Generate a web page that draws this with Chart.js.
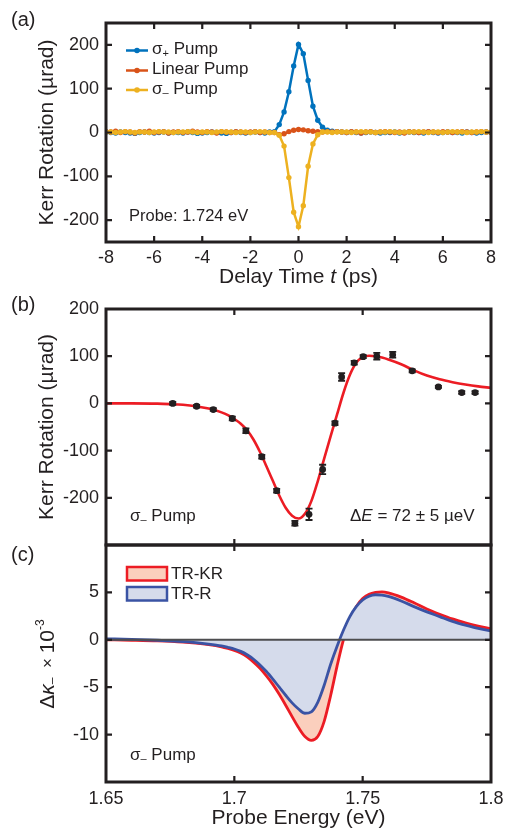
<!DOCTYPE html>
<html><head><meta charset="utf-8">
<script src="https://cdn.jsdelivr.net/npm/chart.js@4.4.1/dist/chart.umd.min.js"></script>
<style>
html,body{margin:0;padding:0;background:#fff;}
#wrap{position:relative;width:510px;height:831px;overflow:hidden;}
canvas{position:absolute;left:0;top:0;}
</style></head><body>
<div id="wrap">
<canvas id="ca" width="510" height="831"></canvas>
<canvas id="cb" width="510" height="831"></canvas>
<canvas id="cc" width="510" height="831"></canvas>
</div>
<script>
// ---------- Panel (a) data ----------
const delay = [-8,-7.8,-7.6,-7.4,-7.2,-7,-6.8,-6.6,-6.4,-6.2,-6,-5.8,-5.6,-5.4,-5.2,-5,-4.8,-4.6,-4.4,-4.2,-4,-3.8,-3.6,-3.4,-3.2,-3,-2.8,-2.6,-2.4,-2.2,-2,-1.8,-1.6,-1.4,-1.2,
  -1,-0.8,-0.6,-0.4,-0.2,0,0.2,0.4,0.6,0.8,1,1.2,1.4,1.6,
  1.8,2,2.2,2.4,2.6,2.8,3,3.2,3.4,3.6,3.8,4,4.2,4.4,4.6,4.8,5,5.2,5.4,5.6,5.8,6,6.2,6.4,6.6,6.8,7,7.2,7.4,7.6,7.8,8];
const sigmaPlus = [1,0,-1,1,0,-1,-2,0,1,0,-1,0,1,-1,0,0,-1,1,0,-2,-1,0,1,0,-1,-2,0,1,0,-1,0,1,0,-1,1,
  2,18,47,93,152,201,180,119,60,28,12,5,3,2,
  1,0,1,0,-1,0,1,0,-1,0,0,1,-1,0,1,0,0,-1,1,0,-1,0,1,0,0,-1,1,0,-1,0,1,0];
const linearPump = [2,1,3,0,2,1,-1,2,1,3,0,1,2,-1,1,2,0,1,3,1,0,2,1,-1,2,1,0,2,1,0,1,2,0,1,0,
  0,-5,-3,2,5,7,6,4,3,2,1,2,1,2,
  1,0,2,1,-1,1,2,0,1,2,1,0,1,-1,2,1,0,1,2,1,0,2,1,0,1,2,1,0,1,2,1,0];
const sigmaMinus = [1,1,0,1,2,1,0,1,1,0,1,2,1,1,0,1,1,2,1,0,1,1,0,1,2,1,1,0,1,1,0,1,2,1,0,
  0,-6,-31,-103,-182,-215,-167,-77,-26,-5,1,1,0,1,
  1,1,0,1,2,1,1,0,1,1,2,1,0,1,1,1,2,1,0,1,1,0,1,2,1,1,0,1,1,2,1,1];
const xTicksA = [-8,-6,-4,-2,0,2,4,6,8];
const yTicksA = [-200,-100,0,100,200];

// ---------- Panel (b) data ----------
const energyB = [1.676,1.6853,1.6918,1.6992,1.7045,1.7107,1.7165,1.7236,1.7291,1.7344,1.7392,1.7418,1.7467,1.7502,1.7555,1.7617,1.7693,1.7795,1.7886,1.7938];
const kerrB   = [0,-6,-13,-32,-58,-113,-185,-254,-235,-140,-42,56,86,99,100,103,69,35,23,23];
const errB    = [3,3,3,4,5,4,4,5,12,10,4,8,4,3,7,6,3,2,3,3];
const fitE = [1.65,1.66,1.67,1.675,1.68,1.685,1.69,1.695,1.6975,1.70,1.7025,1.705,1.7075,1.71,1.7125,1.715,1.7175,1.72,1.7225,1.725,1.7275,1.73,1.7325,1.735,1.7375,1.74,1.7425,1.745,1.7475,1.75,1.7525,1.755,1.7575,1.76,1.765,1.77,1.775,1.78,1.785,1.79,1.795,1.80];
const fitK = [0,0,-0.5,-1.5,-3,-6,-11,-19,-25,-33,-43,-57,-77,-103,-133,-164,-195,-221,-238,-244,-234,-207,-165,-117,-70,-24,22,60,86,98,101,100,97,93,83,70,59,51,45,40,36,33];
const xTicksBC = [1.65,1.7,1.75,1.8];
const yTicksB = [-200,-100,0,100,200];

// ---------- Panel (c) data ----------
const energyC = [1.65,1.66,1.67,1.68,1.685,1.69,1.695,1.6975,1.70,1.7025,1.705,1.7075,1.71,1.7125,1.715,1.7175,1.72,1.7225,1.725,1.7275,1.73,1.7325,1.735,1.7375,1.74,1.7425,1.745,1.7475,1.75,1.7525,1.755,1.7575,1.76,1.765,1.77,1.775,1.78,1.785,1.79,1.795,1.80];
const trKR = [0,-0.05,-0.12,-0.25,-0.36,-0.52,-0.75,-0.92,-1.12,-1.4,-1.8,-2.35,-3.0,-3.8,-4.7,-5.75,-6.9,-8.1,-9.25,-10.2,-10.6,-10.2,-8.6,-5.9,-2.8,0,2.1,3.5,4.35,4.8,5.0,5.05,4.95,4.5,3.9,3.25,2.7,2.2,1.8,1.45,1.15];
const trR  = [0.1,0.05,-0.05,-0.2,-0.3,-0.45,-0.65,-0.8,-0.97,-1.22,-1.58,-2.05,-2.65,-3.35,-4.15,-5.0,-5.85,-6.65,-7.3,-7.75,-7.6,-6.6,-4.8,-2.6,-0.7,1.0,2.45,3.5,4.2,4.6,4.75,4.72,4.58,4.1,3.5,2.95,2.45,1.95,1.55,1.2,0.95];
const yTicksC = [-10,-5,0,5];

// ---------- styles ----------
const F = '"Liberation Sans", Arial, Helvetica, sans-serif';
const INK = '#231f20';
const BLUE = '#0072bd', ORANGE = '#d95319', YELLOW = '#edb120';
const RED = '#ec1c24', REDFILL = '#fbcfbd';
const NAVY = '#3a53a4', NAVYFILL = '#d5dbeb';

function pts(xs, ys){ return xs.map((x,i)=>({x:x, y:ys[i]})); }

function drawRich(ctx, x, y, segs, align){
  let w = 0;
  const ws = segs.map(s => { ctx.font = s[1]; const m = ctx.measureText(s[0]).width; w += m; return m; });
  let cx = align === 'center' ? x - w/2 : x;
  segs.forEach((s,i) => { ctx.font = s[1]; ctx.fillText(s[0], cx, y + (s[2]||0)); cx += ws[i]; });
}

function drawA(chart){
  const ctx = chart.ctx;
  ctx.font = `20px ${F}`; ctx.fillText('(a)', 11, 20);
  const ds = chart.data.datasets;
  const rows = [[50.5, ds[0], '+'], [70.5, ds[1], null], [90, ds[2], '\u2013']];
  rows.forEach(r => {
    const [yy, d, sub] = r;
    ctx.strokeStyle = d.borderColor; ctx.lineWidth = 2.5;
    ctx.beginPath(); ctx.moveTo(126, yy); ctx.lineTo(148, yy); ctx.stroke();
    ctx.fillStyle = d.borderColor; ctx.beginPath(); ctx.arc(137, yy, 2.8, 0, Math.PI*2); ctx.fill();
    ctx.fillStyle = INK;
    if (sub) {
      drawRich(ctx, 152, yy - 1, [['\u03c3', `17px ${F}`, 0], [sub, `11px ${F}`, 4], [' Pump', `17px ${F}`, 0]]);
    } else {
      ctx.font = `17px ${F}`; ctx.fillText(d.label, 152, yy - 1);
    }
  });
  ctx.font = `16.5px ${F}`; ctx.fillText('Probe: 1.724 eV', 129, 216);
  drawRich(ctx, 298.5, 277, [['Delay Time ', `21px ${F}`, 0], ['t', `italic 21px ${F}`, 0], [' (ps)', `21px ${F}`, 0]], 'center');
}

function drawB(chart){
  const ctx = chart.ctx;
  ctx.font = `20px ${F}`; ctx.fillText('(b)', 11, 305);
  drawRich(ctx, 130, 516, [['\u03c3', `17px ${F}`, 0], ['\u2013', `11px ${F}`, 4], [' Pump', `17px ${F}`, 0]]);
  drawRich(ctx, 350, 516, [['\u0394', `17px ${F}`, 0], ['E', `italic 17px ${F}`, 0], [' = 72 \u00b1 5 \u00b5eV', `17px ${F}`, 0]]);
}
function errB_draw(chart){
  const {ctx, scales:{x,y}} = chart;
  ctx.save(); ctx.strokeStyle = INK; ctx.lineWidth = 1.8;
  energyB.forEach((e,i) => {
    const px = x.getPixelForValue(e);
    const y1 = y.getPixelForValue(kerrB[i] + errB[i]);
    const y2 = y.getPixelForValue(kerrB[i] - errB[i]);
    ctx.beginPath();
    ctx.moveTo(px, y1); ctx.lineTo(px, y2);
    ctx.moveTo(px-3.5, y1); ctx.lineTo(px+3.5, y1);
    ctx.moveTo(px-3.5, y2); ctx.lineTo(px+3.5, y2);
    ctx.stroke();
  });
  ctx.restore();
}

function drawC(chart){
  const ctx = chart.ctx;
  ctx.font = `20px ${F}`; ctx.fillText('(c)', 11, 555);
  const ds = chart.data.datasets;
  [[567, ds[0]], [587, ds[1]]].forEach(r => {
    const [yy, d] = r;
    ctx.fillStyle = d.backgroundColor; ctx.fillRect(127, yy, 40, 13.5);
    ctx.strokeStyle = d.borderColor; ctx.lineWidth = 2.5; ctx.strokeRect(127, yy, 40, 13.5);
    ctx.fillStyle = INK; ctx.font = `17px ${F}`; ctx.fillText(d.label, 171, yy + 7);
  });
  drawRich(ctx, 130, 755, [['\u03c3', `17px ${F}`, 0], ['\u2013', `11px ${F}`, 4], [' Pump', `17px ${F}`, 0]]);
  ctx.save();
  ctx.translate(48, 664); ctx.rotate(-Math.PI/2);
  drawRich(ctx, 0, 0, [['\u0394', `21px ${F}`, 0], ['\u03ba', `italic 21px ${F}`, 0], ['\u2013', `12px ${F}`, 5], ['  \u00d7 ', `17px ${F}`, 0], ['10', `21px ${F}`, 0], ['-3', `12px ${F}`, -7]], 'center');
  ctx.restore();
}
function zeroC(chart){
  const {ctx, chartArea:a, scales:{y}} = chart;
  const p = y.getPixelForValue(0);
  ctx.save(); ctx.strokeStyle = '#4d4d4f'; ctx.lineWidth = 2;
  ctx.beginPath(); ctx.moveTo(a.left, p); ctx.lineTo(a.right, p); ctx.stroke(); ctx.restore();
}

const extras = {
  ca: { xTicks: xTicksA, yTicks: yTicksA, draw: drawA },
  cb: { xTicks: xTicksBC, yTicks: yTicksB, draw: drawB, afterData: errB_draw },
  cc: { xTicks: xTicksBC, yTicks: yTicksC, draw: drawC, afterData: zeroC },
};

const panelPlugin = {
  id: 'panelPlugin',
  afterDatasetsDraw(chart){ const e = extras[chart.canvas.id]; if (e && e.afterData) e.afterData(chart); },
  afterDraw(chart){
    const e = extras[chart.canvas.id]; if (!e) return;
    const {ctx, chartArea:a, scales:{x,y}} = chart;
    ctx.save();
    ctx.strokeStyle = INK; ctx.lineWidth = 2.2;
    const TL = 6;
    ctx.beginPath();
    e.xTicks.forEach(v => { const p = x.getPixelForValue(v); if (p < a.left+2 || p > a.right-2) return;
      ctx.moveTo(p, a.top); ctx.lineTo(p, a.top+TL); ctx.moveTo(p, a.bottom); ctx.lineTo(p, a.bottom-TL); });
    e.yTicks.forEach(v => { const p = y.getPixelForValue(v); if (p < a.top+2 || p > a.bottom-2) return;
      ctx.moveTo(a.left, p); ctx.lineTo(a.left+TL, p); ctx.moveTo(a.right, p); ctx.lineTo(a.right-TL, p); });
    ctx.stroke();
    ctx.lineWidth = 3; ctx.strokeRect(a.left, a.top, a.right-a.left, a.bottom-a.top);
    ctx.fillStyle = INK; ctx.textBaseline = 'middle'; ctx.textAlign = 'left';
    e.draw(chart);
    ctx.restore();
  }
};
Chart.register(panelPlugin);

function setTicks(arr){ return s => { s.ticks = arr.map(v => ({value: v})); }; }
const tickFont = {family: F, size: 18};
function xScale(min, max, ticks, h, showLabels, pad){
  return { type:'linear', min, max, afterBuildTicks: setTicks(ticks), afterFit: s => { s.height = h; },
    grid:{display:false, drawTicks:false}, border:{display:false},
    ticks:{display: showLabels, font: tickFont, color: INK, padding: pad, maxRotation:0, autoSkip:false, callback: v => String(v)} };
}
function yScale(min, max, ticks, title){
  return { type:'linear', min, max, afterBuildTicks: setTicks(ticks), afterFit: s => { s.width = 106; },
    grid:{display:false, drawTicks:false}, border:{display:false},
    ticks:{font: tickFont, color: INK, padding: 7, autoSkip:false, callback: v => String(v)},
    title:{display: !!title, text: title || '', font:{family: F, size: 21}, color: INK, padding:{top: 35, bottom: 0}} };
}
const common = { responsive:false, animation:false, devicePixelRatio:1, events:[],
  plugins:{legend:{display:false}, tooltip:{enabled:false}} };

new Chart(document.getElementById('ca'), {
  type:'line',
  data:{ datasets:[
    {label:'\u03c3+ Pump', data: pts(delay, sigmaPlus), borderColor: BLUE, backgroundColor: BLUE, borderWidth:2.5, pointRadius:2.7, pointBorderWidth:0, order:3},
    {label:'Linear Pump', data: pts(delay, linearPump), borderColor: ORANGE, backgroundColor: ORANGE, borderWidth:2.5, pointRadius:2.7, pointBorderWidth:0, order:2},
    {label:'\u03c3- Pump', data: pts(delay, sigmaMinus), borderColor: YELLOW, backgroundColor: YELLOW, borderWidth:2.5, pointRadius:2.7, pointBorderWidth:0, order:1},
  ]},
  options: Object.assign({}, common, {
    layout:{padding:{left:0, right:19, top:23, bottom:831-292}},
    scales:{ x: xScale(-8, 8, xTicksA, 50, true, 5), y: yScale(-250, 250, yTicksA, 'Kerr Rotation (\u00b5rad)') }
  })
});

new Chart(document.getElementById('cb'), {
  type:'line',
  data:{ datasets:[
    {label:'data', data: pts(energyB, kerrB), showLine:false, pointRadius:3.4, pointBorderWidth:0, backgroundColor: INK, borderColor: INK, order:1},
    {label:'fit', data: pts(fitE, fitK), borderColor: RED, borderWidth:2.6, pointRadius:0, cubicInterpolationMode:'monotone', fill:false, order:2},
  ]},
  options: Object.assign({}, common, {
    layout:{padding:{left:0, right:19, top:309, bottom:831-545}},
    scales:{ x: xScale(1.65, 1.8, xTicksBC, 0, false, 0), y: yScale(-300, 200, yTicksB, 'Kerr Rotation (\u00b5rad)') }
  })
});

new Chart(document.getElementById('cc'), {
  type:'line',
  data:{ datasets:[
    {label:'TR-KR', data: pts(energyC, trKR), borderColor: RED, backgroundColor: REDFILL, fill:'origin', borderWidth:2.8, pointRadius:0, cubicInterpolationMode:'monotone', order:2},
    {label:'TR-R', data: pts(energyC, trR), borderColor: NAVY, backgroundColor: NAVYFILL, fill:'origin', borderWidth:2.8, pointRadius:0, cubicInterpolationMode:'monotone', order:1},
  ]},
  options: Object.assign({}, common, {
    layout:{padding:{left:0, right:19, top:545, bottom:0}},
    scales:{ x: Object.assign(xScale(1.65, 1.8, xTicksBC, 49, true, 6), {title:{display:true, text:'Probe Energy (eV)', font:{family:F, size:21}, color: INK, padding:{top:0, bottom:0}}}),
             y: yScale(-15, 10, yTicksC, null) }
  })
});
</script>
</body></html>
